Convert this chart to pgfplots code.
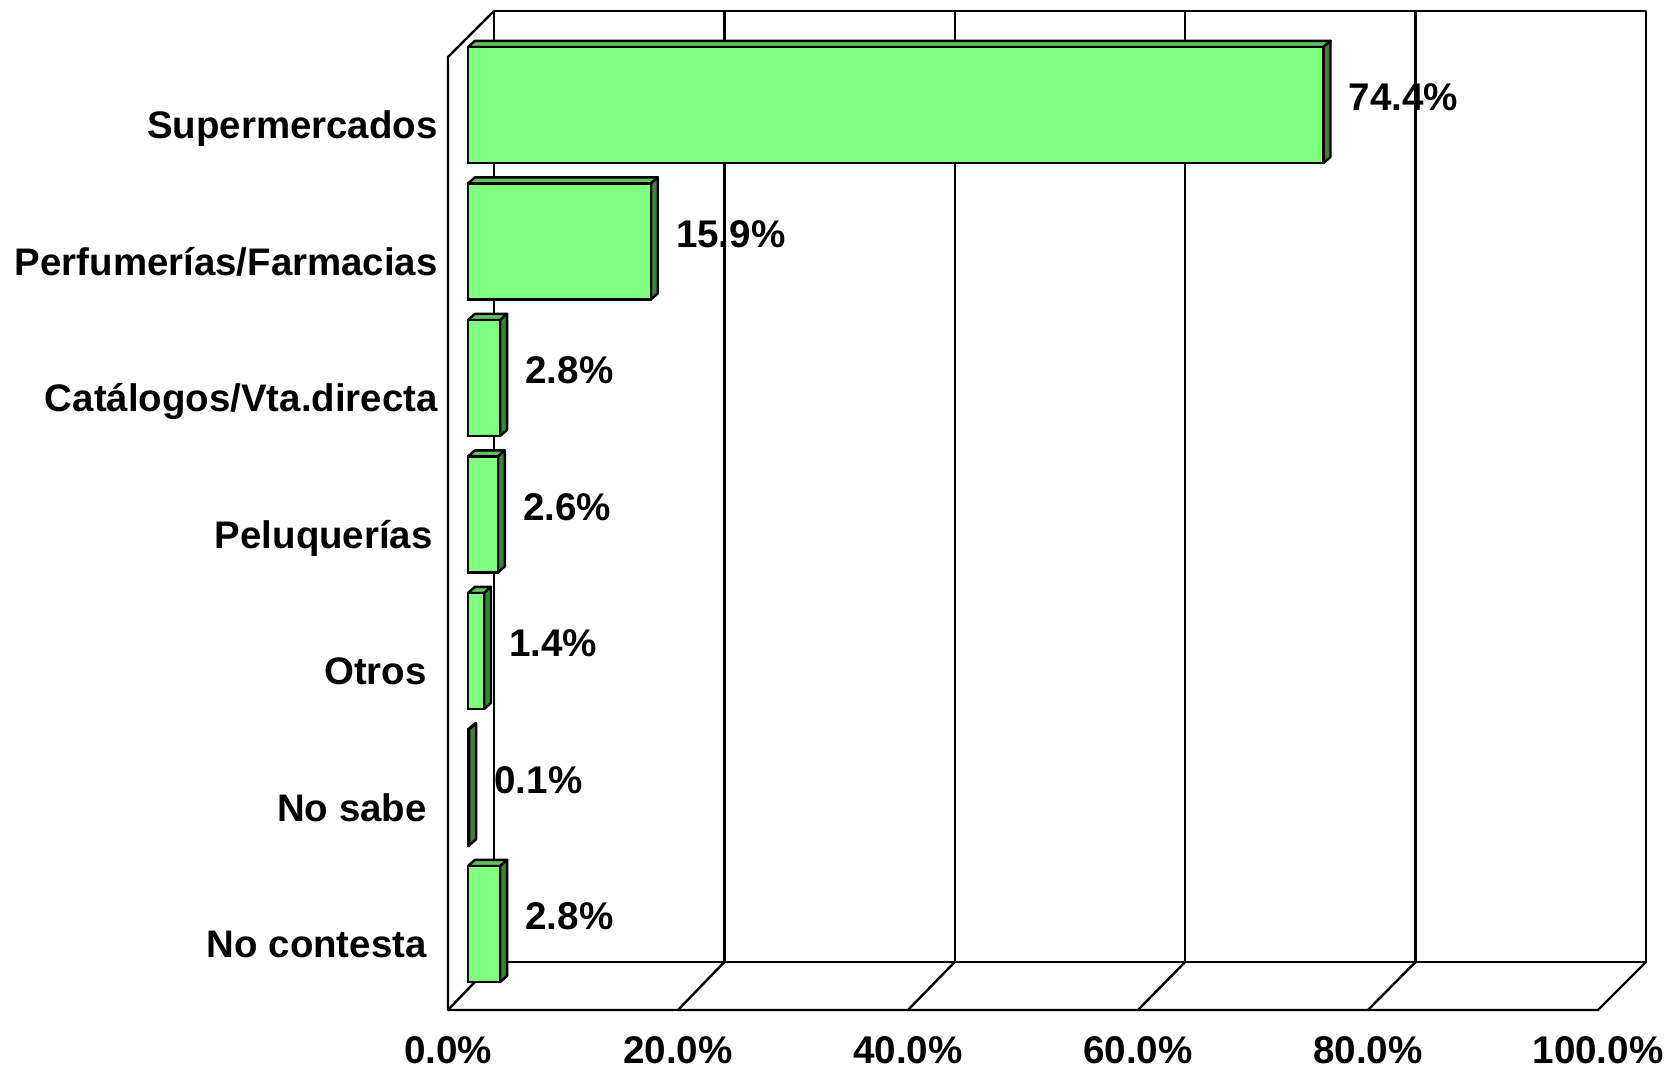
\documentclass[border=0pt]{standalone}
\usepackage{fontspec}
\setmainfont{Liberation Sans}
\usepackage{pgfplots}
\usepackage{pgfplotstable}
\pgfplotsset{compat=1.18}

\definecolor{barfront}{HTML}{80FF80}
\definecolor{bartop}{HTML}{60BF60}
\definecolor{barside}{HTML}{408040}

% y = -index of the category, v = share in %
\pgfplotstableread{
y v
0 74.4
-1 15.9
-2 2.8
-3 2.6
-4 1.4
-5 0.1
-6 2.8
}\shares

% top and side faces of a 3d bar: #1 position, #2 value
\newcommand\barfaces[2]{%
  \pgfmathsetmacro\ftop{#1+0.425}%
  \pgfmathsetmacro\btop{#1+0.47}%
  \pgfmathsetmacro\fbot{#1-0.425}%
  \pgfmathsetmacro\bbot{#1-0.38}%
  \pgfmathsetmacro\xend{#2+0.6}%
  \edef\tmp{%
    \noexpand\addplot[fill=bartop, draw=black, line width=1.2bp, line join=round, mark=none]
      coordinates {(0,\ftop) (#2,\ftop) (\xend,\btop) (0.6,\btop) (0,\ftop)};
    \noexpand\addplot[fill=barside, draw=black, line width=1.2bp, line join=round, mark=none]
      coordinates {(#2,\ftop) (\xend,\btop) (\xend,\bbot) (#2,\fbot) (#2,\ftop)};
  }\tmp}

\tikzset{frame/.style={black, line width=1.2bp, line join=round}}

\begin{document}
\begin{tikzpicture}
\begin{axis}[
  width=836.5bp, height=534.5bp, scale only axis,
  xmin=-40.696, xmax=104.783,
  ymin=-7.0623, ymax=0.7692,
  enlargelimits=false, clip=false,
  axis line style={draw=none}, tick style={draw=none},
  xtick={-1.739,18.261,38.261,58.261,78.261,98.261},
  xticklabels={0.0\%,20.0\%,40.0\%,60.0\%,80.0\%,100.0\%},
  ytick={-6.249,-5.249,-4.249,-3.249,-2.249,-1.249,-0.249},
  yticklabels={{No contesta\hspace*{5.5bp}},{No sabe\hspace*{5.5bp}},{Otros\hspace*{5.5bp}},
    {Peluquerías\hspace*{2.5bp}},Catálogos/Vta.directa,Perfumerías/Farmacias,Supermercados},
  ticklabel style={font=\bfseries\fontsize{19.3bp}{23bp}\selectfont, inner sep=0pt},
  yticklabel style={anchor=base east, xshift=219bp, font=\bfseries\fontsize{19.2bp}{23bp}\selectfont},
  xticklabel style={anchor=base, yshift=2.75bp},
  /pgf/number format/assume math mode=true,
]
% walls and floor
\draw[frame] (2.261,0.6886) rectangle (102.435,-6.278);
\draw[frame] (22.296,0.6886) -- (22.296,-6.278);
\draw[frame] (42.330,0.6886) -- (42.330,-6.278);
\draw[frame] (62.365,0.6886) -- (62.365,-6.278);
\draw[frame] (82.400,0.6886) -- (82.400,-6.278);
\draw[frame] (2.261,0.6886) -- (-1.739,0.3516) -- (-1.739,-6.630) -- (98.261,-6.630) -- (102.435,-6.278);
\draw[frame] (-1.739,-6.630) -- (2.261,-6.278);
\draw[frame] (18.261,-6.630) -- (22.296,-6.278);
\draw[frame] (38.261,-6.630) -- (42.330,-6.278);
\draw[frame] (58.261,-6.630) -- (62.365,-6.278);
\draw[frame] (78.261,-6.630) -- (82.400,-6.278);

\barfaces{0}{74.4}
\barfaces{-1}{15.9}
\barfaces{-2}{2.8}
\barfaces{-3}{2.6}
\barfaces{-4}{1.4}
\barfaces{-5}{0.1}
\barfaces{-6}{2.8}

\addplot[xbar, bar width=0.85, bar shift=0pt, fill=barfront, draw=black, line width=1.2bp,
  point meta=x,
  nodes near coords={\pgfmathprintnumber[fixed,fixed zerofill,precision=1]{\pgfplotspointmeta}\%},
  every node near coord/.append style={anchor=west, inner sep=0pt, xshift=12bp, yshift=3.75bp,
    font=\bfseries\fontsize{19.3bp}{23bp}\selectfont, text=black}]
  table[x=v, y=y] {\shares};
\end{axis}
\end{tikzpicture}
\end{document}
